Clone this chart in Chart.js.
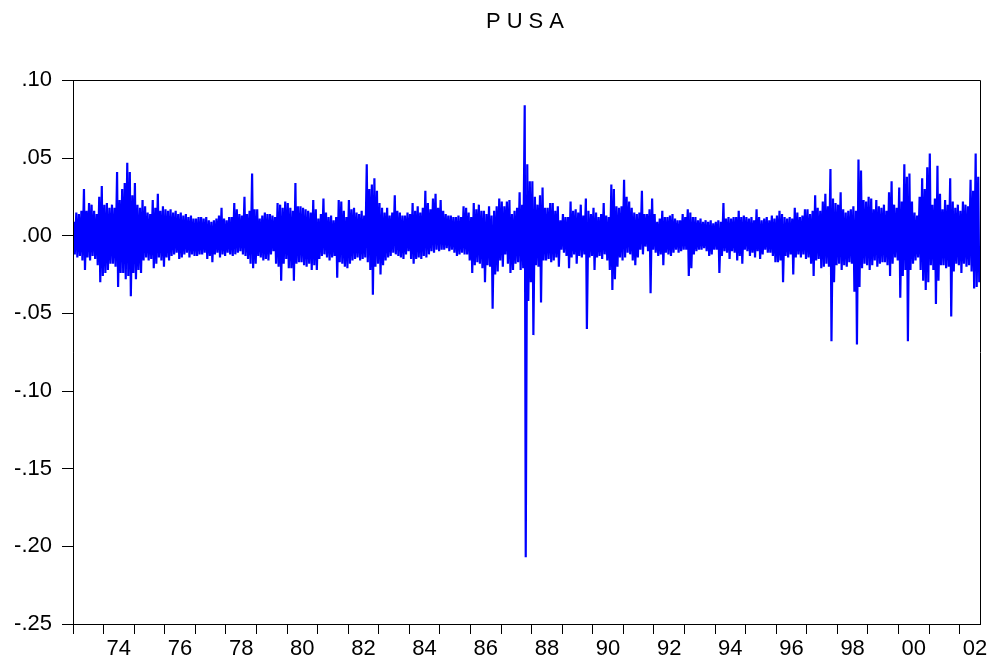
<!DOCTYPE html>
<html>
<head>
<meta charset="utf-8">
<script src="https://cdn.jsdelivr.net/npm/chart.js@4"></script>
<style>
html,body{margin:0;padding:0;background:#fff;}
#wrap{width:994px;height:663px;}
</style>
</head>
<body>
<div id="wrap"><canvas id="c" width="994" height="663"></canvas></div>
<script>
// Series PUSA: monthly envelope of the daily returns.
// For each month: highest value (highs) and lowest value (lows), Jan 1973 .. Aug 2002.
const firstYear = 1973;
const highs = [
  .009, .015, .014, .016, .030, .016, .021, .020, .016, .014, .025, .032, // 1973
  .020, .021, .018, .020, .018, .041, .023, .030, .034, .047, .041, .026, // 1974
  .034, .020, .018, .023, .019, .015, .014, .023, .018, .027, .016, .019, // 1975
  .017, .016, .017, .015, .016, .014, .015, .013, .014, .012, .013, .011, // 1976
  .011, .012, .012, .011, .012, .010, .009, .010, .011, .013, .018, .011, // 1977
  .010, .012, .012, .021, .017, .014, .013, .025, .014, .016, .040, .017, // 1978
  .017, .011, .013, .015, .014, .014, .013, .012, .021, .020, .018, .022, // 1979
  .021, .018, .016, .034, .019, .019, .018, .017, .016, .015, .023, .017, // 1980
  .011, .014, .024, .015, .012, .013, .010, .012, .023, .022, .016, .012, // 1981
  .023, .017, .018, .015, .014, .016, .013, .046, .030, .033, .037, .029, // 1982
  .021, .018, .015, .018, .013, .015, .026, .016, .015, .013, .013, .015, // 1983
  .014, .021, .016, .019, .015, .018, .029, .021, .017, .024, .027, .018, // 1984
  .023, .016, .014, .013, .013, .012, .012, .013, .012, .019, .018, .015, // 1985
  .012, .021, .017, .020, .016, .016, .014, .019, .013, .016, .019, .024, // 1986
  .022, .019, .022, .023, .014, .016, .018, .028, .020, .084, .046, .035, // 1987
  .035, .025, .020, .026, .031, .018, .018, .021, .021, .016, .019, .010, // 1988
  .014, .012, .012, .022, .016, .017, .015, .020, .013, .024, .016, .014, // 1989
  .018, .015, .012, .014, .021, .013, .012, .033, .030, .019, .018, .019, // 1990
  .036, .025, .022, .018, .015, .014, .015, .029, .014, .014, .017, .024, // 1991
  .014, .009, .011, .016, .012, .012, .013, .014, .011, .010, .010, .014, // 1992
  .012, .017, .015, .012, .012, .010, .011, .009, .010, .009, .010, .008, // 1993
  .009, .010, .009, .021, .011, .012, .011, .012, .012, .016, .012, .013, // 1994
  .012, .011, .012, .010, .017, .012, .010, .011, .012, .010, .013, .011, // 1995
  .013, .016, .014, .012, .011, .012, .011, .018, .015, .012, .013, .017, // 1996
  .017, .014, .016, .026, .018, .016, .022, .027, .019, .043, .024, .021, // 1997
  .020, .028, .017, .015, .016, .017, .019, .016, .049, .042, .023, .022, // 1998
  .025, .024, .017, .023, .019, .018, .020, .016, .028, .035, .020, .018, // 1999
  .031, .022, .046, .038, .040, .022, .015, .013, .025, .037, .030, .044, // 2000
  .053, .020, .024, .045, .027, .017, .023, .020, .037, .022, .018, .020, // 2001
  .016, .022, .020, .019, .036, .029, .053, .038                          // 2002
];
const lows = [
  -.012, -.014, -.013, -.016, -.022, -.014, -.016, -.013, -.015, -.019, -.030, -.026, // 1973
  -.024, -.022, -.018, -.018, -.020, -.033, -.024, -.024, -.028, -.026, -.039, -.024, // 1974
  -.028, -.022, -.024, -.016, -.014, -.016, -.015, -.021, -.018, -.014, -.016, -.020, // 1975
  -.014, -.016, -.013, -.012, -.011, -.015, -.014, -.012, -.011, -.014, -.012, -.013, // 1976
  -.013, -.012, -.012, -.011, -.015, -.013, -.017, -.012, -.011, -.014, -.012, -.013, // 1977
  -.011, -.012, -.013, -.012, -.011, -.010, -.012, -.013, -.015, -.018, -.021, -.018, // 1978
  -.013, -.014, -.016, -.015, -.016, -.012, -.010, -.018, -.020, -.029, -.018, -.015, // 1979
  -.021, -.021, -.029, -.018, -.017, -.017, -.019, -.020, -.018, -.022, -.019, -.022, // 1980
  -.015, -.013, -.012, -.014, -.016, -.014, -.013, -.027, -.017, -.018, -.020, -.021, // 1981
  -.018, -.016, -.015, -.014, -.016, -.015, -.014, -.017, -.022, -.038, -.020, -.018, // 1982
  -.025, -.019, -.016, -.014, -.013, -.011, -.012, -.013, -.014, -.015, -.012, -.010, // 1983
  -.015, -.018, -.015, -.014, -.015, -.013, -.014, -.012, -.010, -.011, -.009, -.010, // 1984
  -.009, -.009, -.008, -.010, -.009, -.011, -.013, -.012, -.011, -.012, -.012, -.016, // 1985
  -.024, -.019, -.017, -.018, -.021, -.030, -.019, -.020, -.047, -.025, -.023, -.016, // 1986
  -.020, -.012, -.018, -.024, -.022, -.018, -.017, -.022, -.021, -.207, -.042, -.030, // 1987
  -.064, -.019, -.020, -.043, -.016, -.016, -.015, -.017, -.016, -.014, -.020, -.009, // 1988
  -.011, -.013, -.021, -.014, -.012, -.018, -.013, -.014, -.012, -.060, -.014, -.013, // 1989
  -.022, -.014, -.013, -.015, -.012, -.016, -.022, -.035, -.028, -.020, -.014, -.016, // 1990
  -.014, -.011, -.012, -.016, -.019, -.014, -.009, -.012, -.007, -.010, -.037, -.009, // 1991
  -.011, -.013, -.012, -.019, -.011, -.012, -.013, -.011, -.009, -.011, -.010, -.009, // 1992
  -.009, -.026, -.021, -.012, -.010, -.009, -.009, -.008, -.010, -.013, -.012, -.009, // 1993
  -.009, -.024, -.013, -.010, -.011, -.015, -.010, -.011, -.016, -.013, -.018, -.009, // 1994
  -.010, -.013, -.011, -.014, -.010, -.015, -.012, -.009, -.011, -.011, -.013, -.017, // 1995
  -.017, -.016, -.030, -.013, -.014, -.012, -.025, -.014, -.012, -.014, -.012, -.015, // 1996
  -.014, -.018, -.026, -.016, -.015, -.021, -.020, -.018, -.020, -.068, -.030, -.019, // 1997
  -.018, -.022, -.019, -.020, -.017, -.018, -.036, -.070, -.033, -.021, -.018, -.019, // 1998
  -.022, -.019, -.016, -.020, -.018, -.017, -.017, -.019, -.026, -.018, -.014, -.016, // 1999
  -.040, -.026, -.022, -.068, -.022, -.018, -.016, -.014, -.022, -.029, -.035, -.030, // 2000
  -.019, -.022, -.044, -.029, -.019, -.019, -.021, -.020, -.052, -.023, -.018, -.019, // 2001
  -.024, -.018, -.020, -.019, -.023, -.034, -.033, -.030                               // 2002
];
const xLabelYears = [1974, 1976, 1978, 1980, 1982, 1984, 1986, 1988, 1990, 1992, 1994, 1996, 1998, 2000, 2002];
const xTickLabels = ['74', '76', '78', '80', '82', '84', '86', '88', '90', '92', '94', '96', '98', '00', '02'];
const yTickValues = [-0.25, -0.20, -0.15, -0.10, -0.05, 0.00, 0.05, 0.10];
const yTickLabels = ['-.25', '-.20', '-.15', '-.10', '-.05', '.00', '.05', '.10'];
const titleText = 'PUSA';

// Build the point table: each month carries its high then its low.
const points = [];
for (let i = 0; i < highs.length; i++) {
  const t = firstYear + i / 12;
  points.push({ x: t + 0.3 / 12, y: highs[i] });
  points.push({ x: t + 0.7 / 12, y: lows[i] });
}
const lastYear = firstYear + Math.floor((highs.length - 1) / 12);
const xMax = firstYear + highs.length / 12;

const FONT = { family: "'Liberation Sans', Arial, sans-serif", size: 22, weight: 'normal' };

const frame = {
  id: 'frame',
  afterDraw(chart) {
    const { ctx, chartArea: a } = chart;
    ctx.save();
    ctx.strokeStyle = '#000';
    ctx.lineWidth = 1;
    const l = Math.round(a.left) + 0.5, t = Math.round(a.top) + 0.5;
    const r = Math.round(a.right) + 0.5, b = Math.round(a.bottom) + 0.5;
    ctx.beginPath();
    ctx.moveTo(l, b); ctx.lineTo(l, t); ctx.lineTo(r, t); ctx.lineTo(r, b);
    ctx.stroke();
    ctx.restore();
  }
};

const chart = new Chart(document.getElementById('c'), {
  type: 'line',
  data: {
    datasets: [{
      label: 'PUSA',
      data: points,
      borderColor: '#0000ff',
      borderWidth: 2.2,
      pointRadius: 0,
      tension: 0,
      fill: false
    }]
  },
  options: {
    responsive: false,
    devicePixelRatio: 1,
    animation: false,
    events: [],
    layout: { padding: { left: 0, right: 14, top: 0, bottom: 0 } },
    plugins: {
      legend: { display: false },
      tooltip: { enabled: false },
      title: {
        display: true,
        text: titleText,
        color: '#000',
        font: FONT,
        padding: { top: 9, bottom: 45 }
      }
    },
    scales: {
      x: {
        type: 'linear',
        min: firstYear,
        max: xMax,
        afterBuildTicks(s) {
          const t = [];
          for (let y = firstYear; y <= lastYear; y++) t.push({ value: y });
          xLabelYears.forEach(y => t.push({ value: y + 0.5 }));
          t.sort((a, b) => a.value - b.value);
          s.ticks = t;
        },
        afterFit(s) { s.height = 39; },
        grid: {
          drawOnChartArea: false,
          drawTicks: true,
          tickLength: 10,
          lineWidth: 1,
          color: (c) => (c.tick && c.tick.value % 1 !== 0) ? 'rgba(0,0,0,0)' : '#000'
        },
        border: { display: true, color: '#000', width: 1 },
        ticks: {
          autoSkip: false,
          maxRotation: 0,
          minRotation: 0,
          padding: 2,
          color: '#000',
          font: FONT,
          callback: (v) => {
            const i = xLabelYears.indexOf(v - 0.5);
            return (v % 1 !== 0 && i >= 0) ? xTickLabels[i] : '';
          }
        }
      },
      y: {
        min: -0.25,
        max: 0.10,
        afterBuildTicks(s) { s.ticks = yTickValues.map(v => ({ value: v })); },
        afterFit(s) { s.width = 73; },
        grid: { drawOnChartArea: false, drawTicks: true, tickLength: 11, color: '#000', lineWidth: 1 },
        border: { display: true, color: '#000', width: 1 },
        ticks: {
          padding: 10,
          color: '#000',
          font: FONT,
          callback: (v) => {
            const i = yTickValues.indexOf(v);
            return i >= 0 ? yTickLabels[i] : '';
          }
        }
      }
    }
  },
  plugins: [frame]
});

// Widen the title's letter spacing to match the reference typography.
if (chart.titleBlock) {
  const tb = chart.titleBlock;
  const origDraw = tb.draw.bind(tb);
  tb.draw = function () {
    const ctx = this.ctx;
    ctx.save();
    if ('letterSpacing' in ctx) {
      ctx.letterSpacing = '6px';
      ctx.translate(38, 0);
    }
    origDraw();
    ctx.restore();
  };
  chart.draw();
}
</script>
</body>
</html>
